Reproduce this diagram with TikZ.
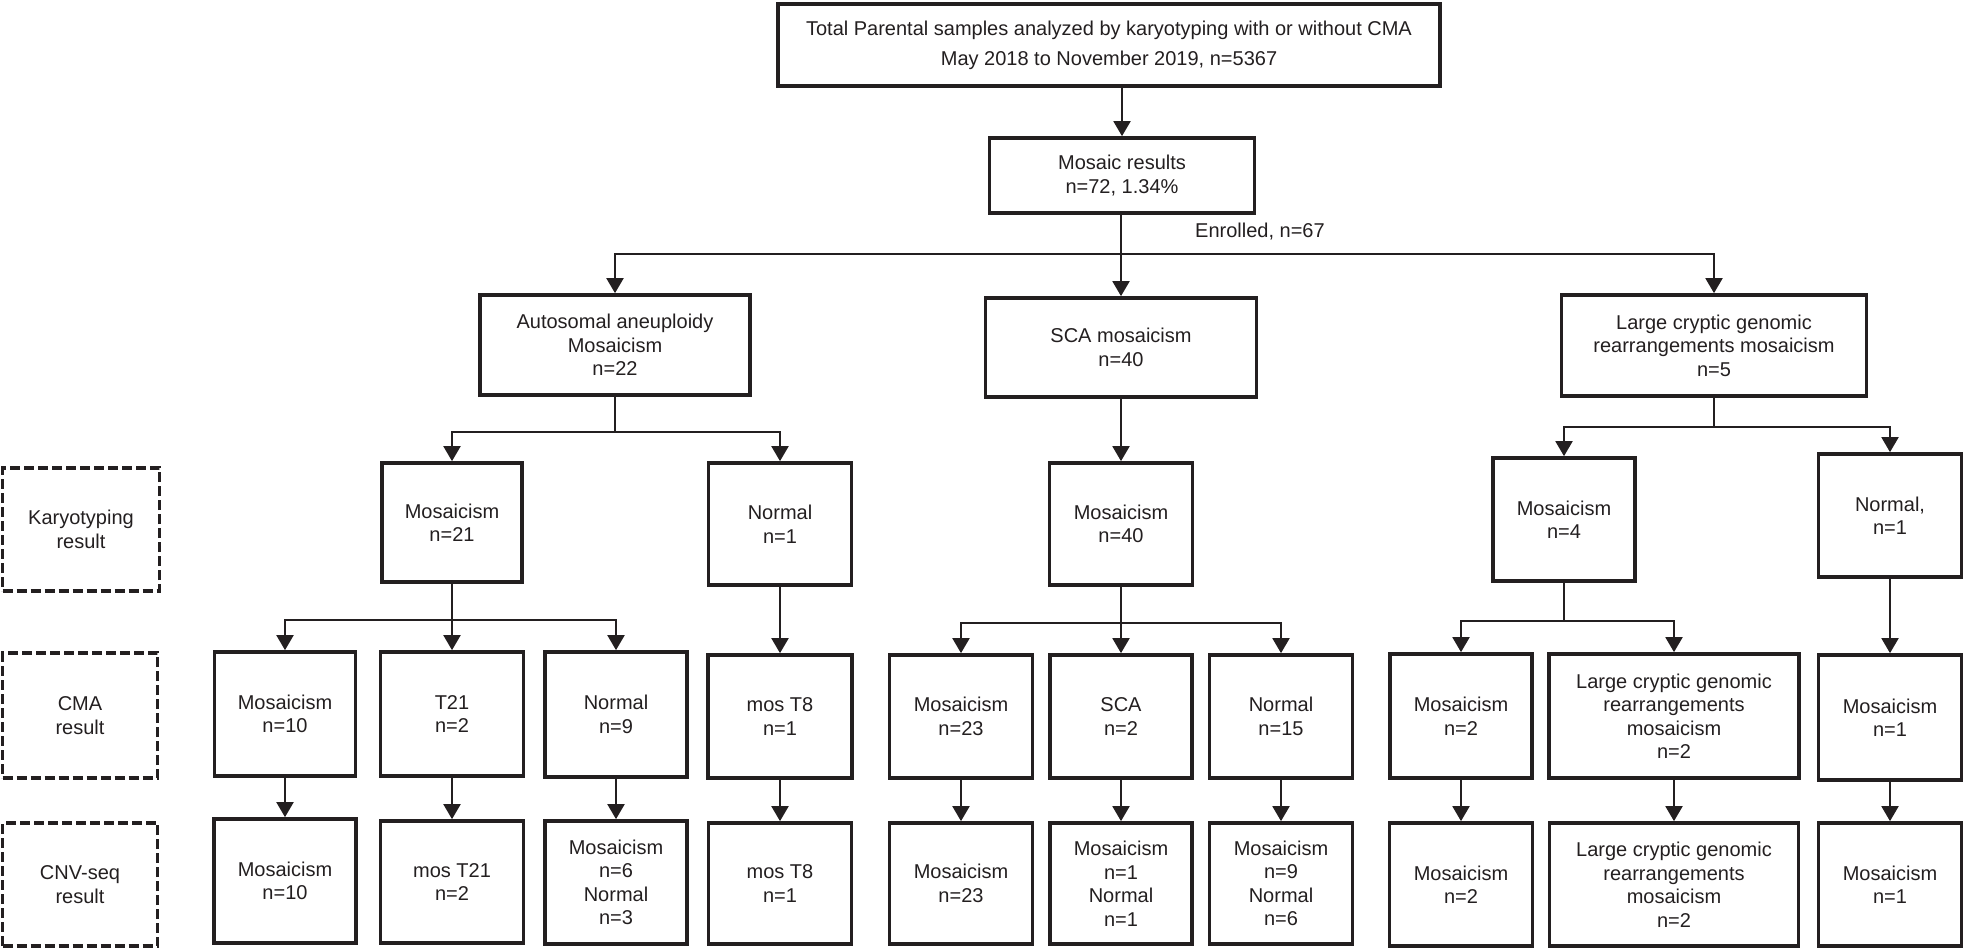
\documentclass[tikz,border=0pt]{standalone}
\usepackage{fontspec}
\setmainfont{Liberation Sans}
\usetikzlibrary{arrows.meta}
\definecolor{ink}{RGB}{35,31,32}
\newcommand\fs{\fontsize{20}{23.5}\selectfont}
\tikzset{
  box/.style={draw=ink, line width=3.7pt, align=center, inner sep=0pt, text=ink, font=\fs},
  sidebox/.style={box, dash pattern=on 10pt off 4pt},
  conn/.style={draw=ink, line width=2pt},
  arr/.style={conn, -{Triangle[width=17pt,length=15pt]}},
}
\begin{document}
\begin{tikzpicture}[x=1pt,y=-1pt]
\useasboundingbox (0,0) rectangle (1968,948);
% level 0 and 1
\node[box, minimum width=662pt, minimum height=82pt, font=\fontsize{20}{30}\selectfont] (top) at (1109,45)
  {Total Parental samples analyzed by karyotyping with or without CMA\\May 2018 to November 2019, n=5367};
\node[box, minimum width=265pt, minimum height=75pt] (mosaic) at (1122,175.5) {Mosaic results\\n=72, 1.34\%};
\node[anchor=base west, inner sep=0pt, text=ink, font=\fs] (enr) at (1195,237) {Enrolled, n=67};
% level 2
\node[box, minimum width=270pt, minimum height=100pt] (auto) at (615,345) {Autosomal aneuploidy\\Mosaicism\\n=22};
\node[box, minimum width=271pt, minimum height=99pt] (sca) at (1121,347.5) {SCA mosaicism\\n=40};
\node[box, minimum width=305pt, minimum height=101pt] (large) at (1714,345.5) {Large cryptic genomic\\rearrangements mosaicism\\n=5};
% side labels
\node[sidebox, minimum width=157pt, minimum height=123pt] (lk) at (81,529.5) {Karyotyping\\result};
\node[sidebox, minimum width=155pt, minimum height=125pt] (lc) at (80,715.5) {CMA\\result};
\node[sidebox, minimum width=155pt, minimum height=123pt] (ln) at (80,884.5) {CNV-seq\\result};
% level 3 karyotyping
\node[box, minimum width=140pt, minimum height=119pt] (K1) at (452,522.5) {Mosaicism\\n=21};
\node[box, minimum width=143pt, minimum height=122pt] (K2) at (780,524) {Normal\\n=1};
\node[box, minimum width=143pt, minimum height=122pt] (K3) at (1121,524) {Mosaicism\\n=40};
\node[box, minimum width=142pt, minimum height=123pt] (K4) at (1564,519.5) {Mosaicism\\n=4};
\node[box, minimum width=143pt, minimum height=123pt] (K5) at (1890,515.5) {Normal,\\n=1};
% level 4 CMA
\node[box, minimum width=141pt, minimum height=124pt] (C1) at (285,714) {Mosaicism\\n=10};
\node[box, minimum width=143pt, minimum height=124pt] (C2) at (452,714) {T21\\n=2};
\node[box, minimum width=142pt, minimum height=125pt] (C3) at (616,714.5) {Normal\\n=9};
\node[box, minimum width=144pt, minimum height=123pt] (C4) at (780,716.5) {mos T8\\n=1};
\node[box, minimum width=143pt, minimum height=123pt] (C5) at (961,716.5) {Mosaicism\\n=23};
\node[box, minimum width=142pt, minimum height=123pt] (C6) at (1121,716.5) {SCA\\n=2};
\node[box, minimum width=143pt, minimum height=123pt] (C7) at (1281,716.5) {Normal\\n=15};
\node[box, minimum width=142pt, minimum height=124pt] (C8) at (1461,716) {Mosaicism\\n=2};
\node[box, minimum width=250pt, minimum height=124pt] (C9) at (1674,716) {Large cryptic genomic\\rearrangements\\mosaicism\\n=2};
\node[box, minimum width=143pt, minimum height=125pt] (C10) at (1890,717.5) {Mosaicism\\n=1};
% level 5 CNV-seq
\node[box, minimum width=142pt, minimum height=124pt] (N1) at (285,881) {Mosaicism\\n=10};
\node[box, minimum width=143pt, minimum height=122pt] (N2) at (452,882) {mos T21\\n=2};
\node[box, minimum width=142pt, minimum height=123pt] (N3) at (616,882.5) {Mosaicism\\n=6\\Normal\\n=3};
\node[box, minimum width=143pt, minimum height=121pt] (N4) at (780,883.5) {mos T8\\n=1};
\node[box, minimum width=143pt, minimum height=121pt] (N5) at (961,883.5) {Mosaicism\\n=23};
\node[box, minimum width=142pt, minimum height=121pt] (N6) at (1121,883.5) {Mosaicism\\n=1\\Normal\\n=1};
\node[box, minimum width=143pt, minimum height=121pt] (N7) at (1281,883.5) {Mosaicism\\n=9\\Normal\\n=6};
\node[box, minimum width=143pt, minimum height=123pt] (N8) at (1461,884.5) {Mosaicism\\n=2};
\node[box, minimum width=249pt, minimum height=123pt] (N9) at (1674,884.5) {Large cryptic genomic\\rearrangements\\mosaicism\\n=2};
\node[box, minimum width=143pt, minimum height=123pt] (N10) at (1890,884.5) {Mosaicism\\n=1};
% junction coordinates
\coordinate (j0) at (0,254);
\coordinate (j1) at (0,432);
\coordinate (j2) at (0,427);
\coordinate (j3) at (0,620);
\coordinate (j4) at (0,623);
\coordinate (j5) at (0,621);
% connectors
\draw[arr] (top.south -| mosaic.north) -- (mosaic.north);
\draw[arr] (mosaic.south -| sca.north) -- (sca.north);
\draw[arr] (sca.north |- j0) -| (auto.north);
\draw[arr] (sca.north |- j0) -| (large.north);
\draw[conn] (auto.south) -- (auto.south |- j1);
\draw[arr] (auto.south |- j1) -| (K1.north);
\draw[arr] (auto.south |- j1) -| (K2.north);
\draw[arr] (sca.south) -- (K3.north);
\draw[conn] (large.south) -- (large.south |- j2);
\draw[arr] (large.south |- j2) -| (K4.north);
\draw[arr] (large.south |- j2) -| (K5.north);
\draw[arr] (K1.south) -- (C2.north);
\draw[arr] (K1.south |- j3) -| (C1.north);
\draw[arr] (K1.south |- j3) -| (C3.north);
\draw[arr] (K2.south -| C4.north) -- (C4.north);
\draw[arr] (K3.south) -- (C6.north);
\draw[arr] (K3.south |- j4) -| (C5.north);
\draw[arr] (K3.south |- j4) -| (C7.north);
\draw[conn] (K4.south) -- (K4.south |- j5);
\draw[arr] (K4.south |- j5) -| (C8.north);
\draw[arr] (K4.south |- j5) -| (C9.north);
\draw[arr] (K5.south -| C10.north) -- (C10.north);
\foreach \i in {1,...,10} {\draw[arr] (C\i.south -| N\i.north) -- (N\i.north);}
\end{tikzpicture}
\end{document}
